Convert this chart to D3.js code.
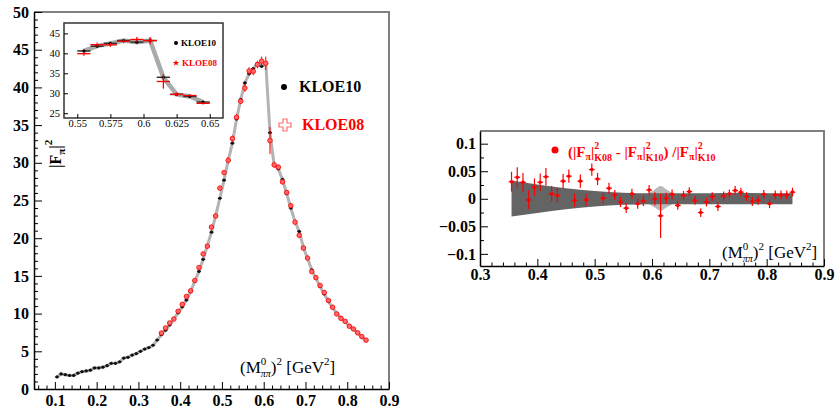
<!DOCTYPE html>
<html>
<head>
<meta charset="utf-8">
<script src="https://cdn.jsdelivr.net/npm/d3@7"></script>
<style>
  body { margin: 0; background: #fff; }
  svg text { font-family: "Liberation Serif", "DejaVu Serif", serif !important; }
</style>
</head>
<body>
<script>
// bin centres and values
var k10Bins = [0.105, 0.115, 0.125, 0.135, 0.145, 0.155, 0.165, 0.175, 0.185, 0.195,
  0.205, 0.215, 0.225, 0.235, 0.245, 0.255, 0.265, 0.275, 0.285, 0.295,
  0.305, 0.315, 0.325, 0.335, 0.345, 0.355, 0.365, 0.375, 0.385, 0.395,
  0.405, 0.415, 0.425, 0.435, 0.445, 0.455, 0.465, 0.475, 0.485, 0.495,
  0.505, 0.515, 0.525, 0.535, 0.545, 0.555, 0.565, 0.575, 0.585, 0.595,
  0.605, 0.615, 0.625, 0.635, 0.645, 0.655, 0.665, 0.675, 0.685, 0.695,
  0.705, 0.715, 0.725, 0.735, 0.745, 0.755, 0.765, 0.775, 0.785, 0.795,
  0.805, 0.815, 0.825, 0.835, 0.845];
var k10Vals = [1.6, 2.0, 1.9, 1.8, 1.8, 2.1, 2.3, 2.4, 2.5, 2.8,
  2.8, 2.9, 3.1, 3.4, 3.4, 3.6, 4.1, 4.2, 4.5, 4.7,
  5.0, 5.3, 5.5, 5.8, 6.5, 7.2, 7.8, 8.5, 9.3, 10.1,
  10.9, 11.8, 12.9, 14.3, 15.6, 17.2, 19.0, 20.8, 23.0, 25.3,
  27.7, 30.3, 32.6, 35.8, 38.4, 40.6, 41.8, 42.5, 43.2, 42.8,
  43.2, 34.0, 29.7, 29.2, 27.8, 25.9, 24.0, 22.2, 20.9, 18.8,
  17.3, 15.8, 14.7, 13.6, 12.6, 11.6, 10.8, 10.0, 9.4, 8.9,
  8.4, 7.9, 7.4, 6.9, 6.4];

var k08Bins = [0.355, 0.365, 0.375, 0.385, 0.395, 0.405, 0.415, 0.425, 0.435, 0.445,
  0.455, 0.465, 0.475, 0.485, 0.495, 0.505, 0.515, 0.525, 0.535, 0.545,
  0.555, 0.565, 0.575, 0.585, 0.595, 0.605, 0.615, 0.625, 0.635, 0.645,
  0.655, 0.665, 0.675, 0.685, 0.695, 0.705, 0.715, 0.725, 0.735, 0.745,
  0.755, 0.765, 0.775, 0.785, 0.795, 0.805, 0.815, 0.825, 0.835, 0.845];
var k08Vals = [7.42, 8.10, 8.76, 9.28, 10.31, 11.23, 12.27, 13.02, 14.39, 16.10,
  17.91, 18.94, 21.47, 22.95, 26.64, 28.70, 30.33, 33.22, 36.05, 38.17,
  39.91, 42.18, 42.12, 43.03, 43.48, 43.20, 32.95, 29.73, 29.43, 27.47,
  26.06, 24.31, 22.13, 20.38, 18.69, 17.37, 15.58, 14.77, 13.72, 12.79,
  11.74, 10.84, 9.95, 9.37, 8.97, 8.32, 7.96, 7.45, 6.95, 6.48];
var k08Errs = [0.2, 0.2, 0.2, 0.2, 0.2, 0.2, 0.2, 0.2, 0.2, 0.2,
  0.3, 0.3, 0.3, 0.3, 0.3, 0.3, 0.4, 0.4, 0.4, 0.4,
  0.5, 0.5, 0.5, 0.5, 0.6, 0.9, 1.8, 0.4, 0.3, 0.3,
  0.3, 0.3, 0.2, 0.2, 0.2, 0.2, 0.2, 0.2, 0.2, 0.2,
  0.2, 0.2, 0.2, 0.2, 0.2, 0.2, 0.2, 0.2, 0.2, 0.2];

// relative difference (K08 - K10) / K10
var ratioVals = [0.031, 0.039, 0.030, -0.002, 0.021, 0.030, 0.040, 0.009, 0.006, 0.032,
  0.041, -0.003, 0.032, -0.002, 0.053, 0.036, 0.001, 0.019, 0.007, -0.006,
  -0.017, 0.009, -0.009, -0.004, 0.016, 0.000, -0.031, 0.001, 0.008, -0.012,
  0.006, 0.013, -0.003, -0.025, -0.006, 0.004, -0.014, 0.005, 0.009, 0.015,
  0.012, 0.004, -0.005, -0.003, 0.008, -0.009, 0.007, 0.007, 0.007, 0.012];
var ratioErrs = [0.018, 0.018, 0.017, 0.017, 0.016, 0.016, 0.016, 0.014, 0.013, 0.013,
  0.012, 0.012, 0.012, 0.011, 0.011, 0.011, 0.010, 0.010, 0.009, 0.009,
  0.009, 0.009, 0.009, 0.009, 0.009, 0.012, 0.040, 0.010, 0.009, 0.008,
  0.008, 0.008, 0.008, 0.008, 0.008, 0.008, 0.008, 0.008, 0.008, 0.008,
  0.008, 0.008, 0.008, 0.008, 0.008, 0.008, 0.008, 0.008, 0.008, 0.008];

// uncertainty bands
var bandX = [0.355, 0.40, 0.45, 0.50, 0.55, 0.60, 0.65, 0.70, 0.75, 0.80, 0.845];
var bandHi = [0.033, 0.026, 0.019, 0.014, 0.011, 0.010, 0.010, 0.010, 0.011, 0.010, 0.010];
var bandLo = [-0.032, -0.026, -0.019, -0.014, -0.011, -0.010, -0.010, -0.010, -0.010, -0.010, -0.010];
var lightX = [0.595, 0.605, 0.615, 0.625, 0.635];
var lightHi = [0.011, 0.017, 0.023, 0.017, 0.011];
var lightLo = [-0.010, -0.016, -0.022, -0.016, -0.010];

var mainXTicks = [0.1, 0.2, 0.3, 0.4, 0.5, 0.6, 0.7, 0.8, 0.9];
var mainYTicks = [0, 5, 10, 15, 20, 25, 30, 35, 40, 45, 50];
var insetXTicks = [0.55, 0.575, 0.6, 0.625, 0.65];
var insetYTicks = [25, 30, 35, 40, 45];
var resXTicks = [0.3, 0.4, 0.5, 0.6, 0.7, 0.8, 0.9];
var resYTicks = [-0.1, -0.05, 0, 0.05, 0.1];

var SERIF = "'Liberation Serif', 'DejaVu Serif', serif";

var k10 = k10Bins.map(function(x, i) { return {x: x, y: k10Vals[i]}; });
var k08 = k08Bins.map(function(x, i) { return {x: x, y: k08Vals[i], e: k08Errs[i]}; });
var ratio = k08Bins.map(function(x, i) { return {x: x, y: ratioVals[i], e: ratioErrs[i]}; });

var svg = d3.select("body").append("svg")
  .attr("width", 835)
  .attr("height", 409)
  .attr("font-family", SERIF);

svg.append("rect").attr("width", 835).attr("height", 409).attr("fill", "#fff");

// pieces of text placed one after another (super/subscripts)
function richText(parent, x, y, pieces, color, weight) {
  var cx = x, stackW = 0;
  pieces.forEach(function(p) {
    var t = parent.append("text")
      .attr("x", cx)
      .attr("y", y + (p.dy || 0))
      .attr("font-family", SERIF)
      .attr("font-size", p.s)
      .attr("font-weight", weight)
      .attr("font-style", p.it ? "italic" : "normal")
      .attr("fill", color)
      .text(p.t);
    var w = t.node().getComputedTextLength();
    if (p.stack) { stackW = w; }
    else { cx += Math.max(w, stackW); stackW = 0; }
  });
}

function styleAxis(g, size, weight) {
  g.attr("font-family", SERIF);
  g.select(".domain").attr("stroke", "#000").attr("stroke-width", 1.5);
  g.selectAll(".tick line").attr("stroke", "#000");
  g.selectAll(".tick text")
    .attr("font-family", SERIF)
    .attr("font-size", size)
    .attr("font-weight", weight)
    .attr("fill", "#000");
}

function minorAxis(g, axis, vals, size) {
  g.call(axis.tickValues(vals).tickSize(size).tickSizeOuter(0).tickFormat(""));
  g.select(".domain").remove();
  g.selectAll(".tick line").attr("stroke", "#000");
}

// ================= main panel =================
var x1 = d3.scaleLinear().domain([0.05, 0.9]).range([34, 389]);
var y1 = d3.scaleLinear().domain([0, 50]).range([389, 12]);

// grey frame top/right
svg.append("path")
  .attr("d", "M34,12H389V389")
  .attr("fill", "none")
  .attr("stroke", "#808080")
  .attr("stroke-width", 2);

var line1 = d3.line().x(function(d) { return x1(d.x); }).y(function(d) { return y1(d.y); });
svg.append("path")
  .datum(k10)
  .attr("d", line1)
  .attr("fill", "none")
  .attr("stroke", "#b4b4b4")
  .attr("stroke-width", 3);

svg.append("g").selectAll("line")
  .data(k10).enter().append("line")
  .attr("x1", function(d) { return x1(d.x - 0.005); })
  .attr("x2", function(d) { return x1(d.x + 0.005); })
  .attr("y1", function(d) { return y1(d.y); })
  .attr("y2", function(d) { return y1(d.y); })
  .attr("stroke", "#222").attr("stroke-width", 1);

svg.append("g").selectAll("circle")
  .data(k10).enter().append("circle")
  .attr("cx", function(d) { return x1(d.x); })
  .attr("cy", function(d) { return y1(d.y); })
  .attr("r", 1.6)
  .attr("fill", "#111");

var redErr = svg.append("g").attr("stroke", "red").attr("stroke-width", 1);
redErr.selectAll(".v").data(k08).enter().append("line")
  .attr("x1", function(d) { return x1(d.x); })
  .attr("x2", function(d) { return x1(d.x); })
  .attr("y1", function(d) { return y1(d.y - d.e); })
  .attr("y2", function(d) { return y1(d.y + d.e); });
redErr.selectAll(".h").data(k08).enter().append("line")
  .attr("x1", function(d) { return x1(d.x - 0.005); })
  .attr("x2", function(d) { return x1(d.x + 0.005); })
  .attr("y1", function(d) { return y1(d.y); })
  .attr("y2", function(d) { return y1(d.y); });

svg.append("g").selectAll("circle")
  .data(k08).enter().append("circle")
  .attr("cx", function(d) { return x1(d.x); })
  .attr("cy", function(d) { return y1(d.y); })
  .attr("r", 2.3)
  .attr("fill", "#ff6a6a")
  .attr("stroke", "red")
  .attr("stroke-width", 0.8);

var xAxis1 = svg.append("g").attr("transform", "translate(0,389)");
xAxis1.call(d3.axisBottom(x1).tickValues(mainXTicks).tickSize(-7).tickSizeOuter(0).tickPadding(6).tickFormat(d3.format("")));
styleAxis(xAxis1, 16, "bold");
minorAxis(svg.append("g").attr("transform", "translate(0,389)"), d3.axisBottom(x1),
  d3.range(0.06, 0.9, 0.02).filter(function(v) { return Math.abs(v * 10 - Math.round(v * 10)) > 0.01; }), -3.5);

var yAxis1 = svg.append("g").attr("transform", "translate(34,0)");
yAxis1.call(d3.axisLeft(y1).tickValues(mainYTicks).tickSize(-8).tickSizeOuter(0).tickPadding(5));
styleAxis(yAxis1, 16, "bold");
minorAxis(svg.append("g").attr("transform", "translate(34,0)"), d3.axisLeft(y1),
  d3.range(1, 50, 1).filter(function(v) { return v % 5 !== 0; }), -4);

// legend
svg.append("circle").attr("cx", 284).attr("cy", 87).attr("r", 3).attr("fill", "#000");
svg.append("text").attr("x", 299).attr("y", 92).attr("font-size", 16).attr("font-weight", "bold").text("KLOE10");
svg.append("path")
  .attr("d", d3.symbol(d3.symbolCross).size(80))
  .attr("transform", "translate(285,125)")
  .attr("fill", "#fff").attr("stroke", "#ff7070").attr("stroke-width", 1.2);
svg.append("text").attr("x", 302).attr("y", 130).attr("font-size", 16).attr("font-weight", "bold").attr("fill", "red").text("KLOE08");

// axis titles
richText(svg, 240, 373, [
  {t: "(M", s: 17},
  {t: "0", s: 11, dy: -8, stack: true},
  {t: "ππ", s: 10, dy: 4, it: true},
  {t: ")", s: 17},
  {t: "2", s: 11, dy: -8},
  {t: "\u00a0[GeV", s: 17},
  {t: "2", s: 11, dy: -8},
  {t: "]", s: 17}
], "#000", "normal");

var yTitle = svg.append("g").attr("transform", "translate(61,168) rotate(-90)");
richText(yTitle, 0, 0, [
  {t: "|F", s: 16},
  {t: "π", s: 11, dy: 4},
  {t: "|", s: 16},
  {t: "2", s: 11, dy: -9}
], "#000", "bold");

// ================= inset =================
var xi = d3.scaleLinear().domain([0.54, 0.66]).range([64, 223]);
var yi = d3.scaleLinear().domain([23.8, 47.6]).range([118, 23]);
var inK10 = k10.filter(function(d) { return d.x > 0.55 && d.x < 0.65; });
var inK08 = k08.filter(function(d) { return d.x > 0.55 && d.x < 0.65; });

svg.append("rect")
  .attr("x", 64).attr("y", 23).attr("width", 159).attr("height", 95)
  .attr("fill", "#fff").attr("stroke", "#333").attr("stroke-width", 1.5);

var linei = d3.line().x(function(d) { return xi(d.x); }).y(function(d) { return yi(d.y); });
svg.append("path")
  .datum(inK10)
  .attr("d", linei)
  .attr("fill", "none")
  .attr("stroke", "#aaa")
  .attr("stroke-width", 4.5);

svg.append("g").selectAll("line")
  .data(inK10).enter().append("line")
  .attr("x1", function(d) { return xi(d.x - 0.005); })
  .attr("x2", function(d) { return xi(d.x + 0.005); })
  .attr("y1", function(d) { return yi(d.y); })
  .attr("y2", function(d) { return yi(d.y); })
  .attr("stroke", "#333").attr("stroke-width", 1.5);
svg.append("g").selectAll("circle")
  .data(inK10).enter().append("circle")
  .attr("cx", function(d) { return xi(d.x); })
  .attr("cy", function(d) { return yi(d.y); })
  .attr("r", 1.6)
  .attr("fill", "#000");

var inRed = svg.append("g").attr("stroke", "red").attr("stroke-width", 1.3);
inRed.selectAll(".h").data(inK08).enter().append("line")
  .attr("x1", function(d) { return xi(d.x - 0.005); })
  .attr("x2", function(d) { return xi(d.x + 0.005); })
  .attr("y1", function(d) { return yi(d.y); })
  .attr("y2", function(d) { return yi(d.y); });
inRed.selectAll(".v").data(inK08).enter().append("line")
  .attr("x1", function(d) { return xi(d.x); })
  .attr("x2", function(d) { return xi(d.x); })
  .attr("y1", function(d) { return yi(d.y - d.e); })
  .attr("y2", function(d) { return yi(d.y + d.e); });

var xAxisI = svg.append("g").attr("transform", "translate(0,118)");
xAxisI.call(d3.axisBottom(xi).tickValues(insetXTicks).tickSize(-4).tickSizeOuter(0).tickPadding(2).tickFormat(d3.format("")));
styleAxis(xAxisI, 10.5, "normal");
xAxisI.select(".domain").remove();
var yAxisI = svg.append("g").attr("transform", "translate(64,0)");
yAxisI.call(d3.axisLeft(yi).tickValues(insetYTicks).tickSize(-4).tickSizeOuter(0).tickPadding(4));
styleAxis(yAxisI, 10.5, "normal");
yAxisI.select(".domain").remove();

svg.append("circle").attr("cx", 176).attr("cy", 43).attr("r", 2).attr("fill", "#000");
svg.append("text").attr("x", 181).attr("y", 46).attr("font-size", 9).attr("font-weight", "bold").text("KLOE10");
svg.append("path")
  .attr("d", d3.symbol(d3.symbolStar).size(14))
  .attr("transform", "translate(176,63)")
  .attr("fill", "red");
svg.append("text").attr("x", 182).attr("y", 66).attr("font-size", 9).attr("font-weight", "bold").attr("fill", "red").text("KLOE08");

// ================= residual panel =================
var x2 = d3.scaleLinear().domain([0.3, 0.9]).range([480, 824]);
var y2 = d3.scaleLinear().domain([-0.122, 0.123]).range([266, 131]);

svg.append("path")
  .attr("d", "M480,131H824V266")
  .attr("fill", "none")
  .attr("stroke", "#808080")
  .attr("stroke-width", 2);

var lightBand = lightX.map(function(x, i) { return {x: x, hi: lightHi[i], lo: lightLo[i]}; });
var darkBand = bandX.map(function(x, i) { return {x: x, hi: bandHi[i], lo: bandLo[i]}; });
var area2 = d3.area()
  .x(function(d) { return x2(d.x); })
  .y0(function(d) { return y2(d.lo); })
  .y1(function(d) { return y2(d.hi); })
  .curve(d3.curveMonotoneX);

svg.append("path").datum(lightBand).attr("d", area2).attr("fill", "#b8b8b8");
svg.append("path").datum(darkBand).attr("d", area2).attr("fill", "#646464");

var resG = svg.append("g").attr("stroke", "red").attr("stroke-width", 1.2);
resG.selectAll(".v").data(ratio).enter().append("line")
  .attr("x1", function(d) { return x2(d.x); })
  .attr("x2", function(d) { return x2(d.x); })
  .attr("y1", function(d) { return y2(d.y - d.e); })
  .attr("y2", function(d) { return y2(d.y + d.e); });
resG.selectAll(".h").data(ratio).enter().append("line")
  .attr("x1", function(d) { return x2(d.x - 0.005); })
  .attr("x2", function(d) { return x2(d.x + 0.005); })
  .attr("y1", function(d) { return y2(d.y); })
  .attr("y2", function(d) { return y2(d.y); });
svg.append("g").selectAll("circle")
  .data(ratio).enter().append("circle")
  .attr("cx", function(d) { return x2(d.x); })
  .attr("cy", function(d) { return y2(d.y); })
  .attr("r", 1.8)
  .attr("fill", "red");

var xAxis2 = svg.append("g").attr("transform", "translate(0,266)");
xAxis2.call(d3.axisBottom(x2).tickValues(resXTicks).tickSize(-7).tickSizeOuter(0).tickPadding(3).tickFormat(d3.format("")));
styleAxis(xAxis2, 16, "bold");
minorAxis(svg.append("g").attr("transform", "translate(0,266)"), d3.axisBottom(x2),
  d3.range(0.32, 0.9, 0.02).filter(function(v) { return Math.abs(v * 10 - Math.round(v * 10)) > 0.01; }), -3.5);

var yAxis2 = svg.append("g").attr("transform", "translate(480,0)");
yAxis2.call(d3.axisLeft(y2).tickValues(resYTicks).tickSize(-8).tickSizeOuter(0).tickPadding(4).tickFormat(d3.format("")));
styleAxis(yAxis2, 16, "bold");
minorAxis(svg.append("g").attr("transform", "translate(480,0)"), d3.axisLeft(y2),
  [-0.075, -0.025, 0.025, 0.075], -4);

svg.append("circle").attr("cx", 555).attr("cy", 150).attr("r", 3.5).attr("fill", "red");
richText(svg, 568, 157, [
  {t: "(|F", s: 15},
  {t: "π", s: 10, dy: 3},
  {t: "|", s: 15},
  {t: "2", s: 10, dy: -8, stack: true},
  {t: "K08", s: 10, dy: 4},
  {t: "\u00a0-\u00a0|F", s: 15},
  {t: "π", s: 10, dy: 3},
  {t: "|", s: 15},
  {t: "2", s: 10, dy: -8, stack: true},
  {t: "K10", s: 10, dy: 4},
  {t: ")\u00a0/|F", s: 15},
  {t: "π", s: 10, dy: 3},
  {t: "|", s: 15},
  {t: "2", s: 10, dy: -8, stack: true},
  {t: "K10", s: 10, dy: 4}
], "red", "bold");

richText(svg, 722, 258, [
  {t: "(M", s: 17},
  {t: "0", s: 11, dy: -8, stack: true},
  {t: "ππ", s: 10, dy: 4, it: true},
  {t: ")", s: 17},
  {t: "2", s: 11, dy: -8},
  {t: "\u00a0[GeV", s: 17},
  {t: "2", s: 11, dy: -8},
  {t: "]", s: 17}
], "#000", "normal");
</script>
</body>
</html>
